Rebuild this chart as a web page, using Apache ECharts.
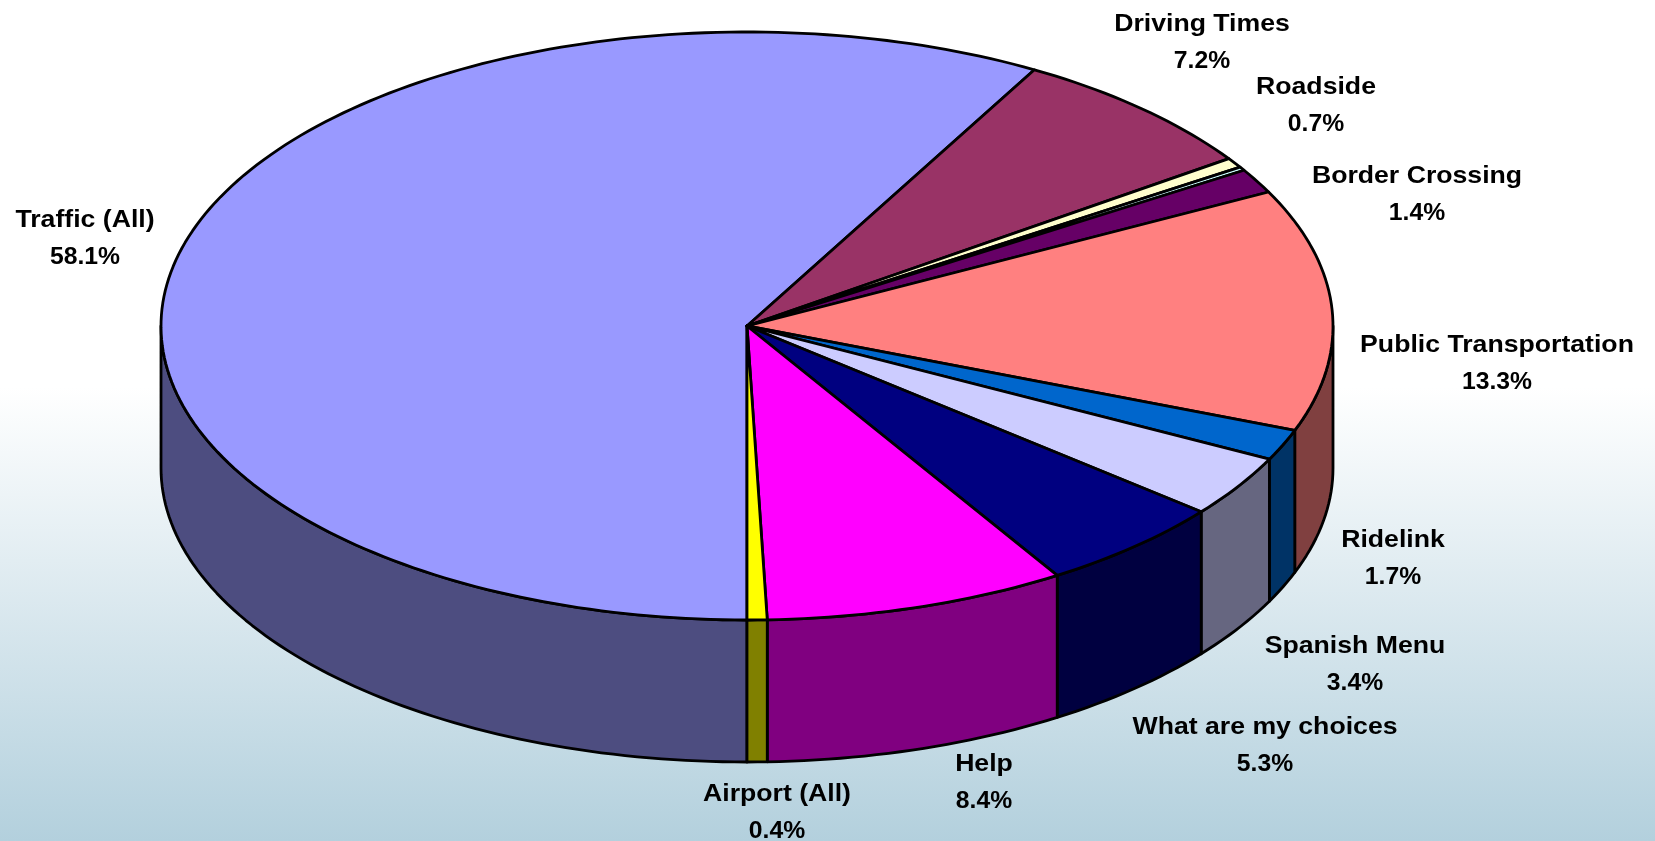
<!DOCTYPE html>
<html>
<head>
    <meta charset="utf-8">
    <title>Pie</title>
    <script src="https://cdn.jsdelivr.net/npm/echarts@6/dist/echarts.min.js"></script>
    <style>html,body{margin:0;padding:0;background:#fff;}</style>
</head>
<body>
    <div id="main" style="width:1655px;height:841px;"></div>
    <script type="text/javascript">
    // slices clockwise from 6 o'clock; the empty name is the unlabelled sliver next to Roadside
    var categories = ['Traffic (All)', 'Driving Times', 'Roadside', '', 'Border Crossing', 'Public Transportation', 'Ridelink', 'Spanish Menu', 'What are my choices', 'Help', 'Airport (All)'];
    // drawn sizes, they differ a little from the printed percentages
    var values = [58.1, 7.2, 0.55, 0.2, 1.35, 13.3, 1.7, 3.4, 5.23, 8.32, 0.55];
    var labelText = ['58.1%', '7.2%', '0.7%', '', '1.4%', '13.3%', '1.7%', '3.4%', '5.3%', '8.4%', '0.4%'];
    var topColors = ['#9999FF', '#993366', '#FFFFCC', '#CCFFFF', '#660066', '#FF8080', '#0066CC', '#CCCCFF', '#000080', '#FF00FF', '#FFFF00'];
    var sideColors = ['#4D4D80', '#4D1A33', '#808066', '#668080', '#330033', '#804040', '#003366', '#666680', '#000040', '#800080', '#808000'];
    var labelPos = [[85, 239], [1202, 43], [1316, 106], null, [1417, 195], [1497, 364], [1393, 559], [1355, 665], [1265, 746], [984, 783], [777, 813]];

    var depth = 0.483; // height of the wall, in y axis units
    var total = values.reduce(function (a, b) { return a + b; }, 0);
    var sum = 0;
    var sliceData = values.map(function (v, i) {
        var start = sum / total;
        sum += v;
        return [start, sum / total, i];
    });

    function rim(f) {
        var a = f * Math.PI * 2;
        return [-Math.sin(a), -Math.cos(a)];
    }
    function arc(from, to, drop, api) {
        var pts = [];
        var n = Math.max(2, Math.ceil((to - from) * 300));
        for (var k = 0; k <= n; k++) {
            var p = rim(from + (to - from) * k / n);
            pts.push(api.coord([p[0], p[1] - drop]));
        }
        return pts;
    }
    function style(fill) {
        return { fill: fill, stroke: '#000', lineWidth: 2.8, lineJoin: 'round' };
    }

    function renderSide(params, api) {
        var from = api.value(0), to = api.value(1), i = api.value(2);
        var children = [];
        // only the front half of the wall can be seen
        [[0, 0.25], [0.75, 1]].forEach(function (range) {
            var a = Math.max(from, range[0]), b = Math.min(to, range[1]);
            if (b <= a) return;
            var pts = arc(a, b, 0, api).concat(arc(a, b, depth, api).reverse());
            children.push({ type: 'polygon', shape: { points: pts }, style: style(sideColors[i]) });
        });
        return { type: 'group', children: children };
    }
    function renderTop(params, api) {
        var from = api.value(0), to = api.value(1), i = api.value(2);
        var pts = [api.coord([0, 0])].concat(arc(from, to, 0, api));
        return { type: 'polygon', shape: { points: pts }, style: style(topColors[i]) };
    }
    function textEl(text, x, y, scaleX) {
        return {
            type: 'text',
            x: x,
            y: y,
            scaleX: scaleX, // the original type is set wide
            style: {
                text: text,
                fill: '#000',
                align: 'center',
                verticalAlign: 'middle',
                font: 'bold 24px "Liberation Sans", Arial, sans-serif'
            }
        };
    }
    function renderLabel(params, api) {
        var i = api.value(2);
        if (!categories[i]) return null;
        return {
            type: 'group',
            children: [
                textEl(categories[i], labelPos[i][0], labelPos[i][1] - 19, 1.11),
                textEl(labelText[i], labelPos[i][0], labelPos[i][1] + 18, 1.03)
            ]
        };
    }

    var myChart = echarts.init(document.getElementById('main'));
    var option = {
        animation: false,
        backgroundColor: new echarts.graphic.LinearGradient(0, 0, 0, 1, [
            { offset: 0, color: '#FFFFFF' },
            { offset: 0.46, color: '#FFFFFF' },
            { offset: 1, color: '#B3D0DD' }
        ]),
        grid: { left: 161, width: 1172, top: 32, height: 730 },
        xAxis: { type: 'value', min: -1, max: 1, show: false },
        yAxis: { type: 'value', min: -1 - depth, max: 1, show: false },
        series: [
            { type: 'custom', coordinateSystem: 'cartesian2d', renderItem: renderSide, data: sliceData, clip: false, z: 1, silent: true },
            { type: 'custom', coordinateSystem: 'cartesian2d', renderItem: renderTop, data: sliceData, clip: false, z: 2, silent: true },
            { type: 'custom', coordinateSystem: 'cartesian2d', renderItem: renderLabel, data: sliceData, clip: false, z: 3, silent: true }
        ]
    };
    myChart.setOption(option);
    </script>
</body>
</html>
